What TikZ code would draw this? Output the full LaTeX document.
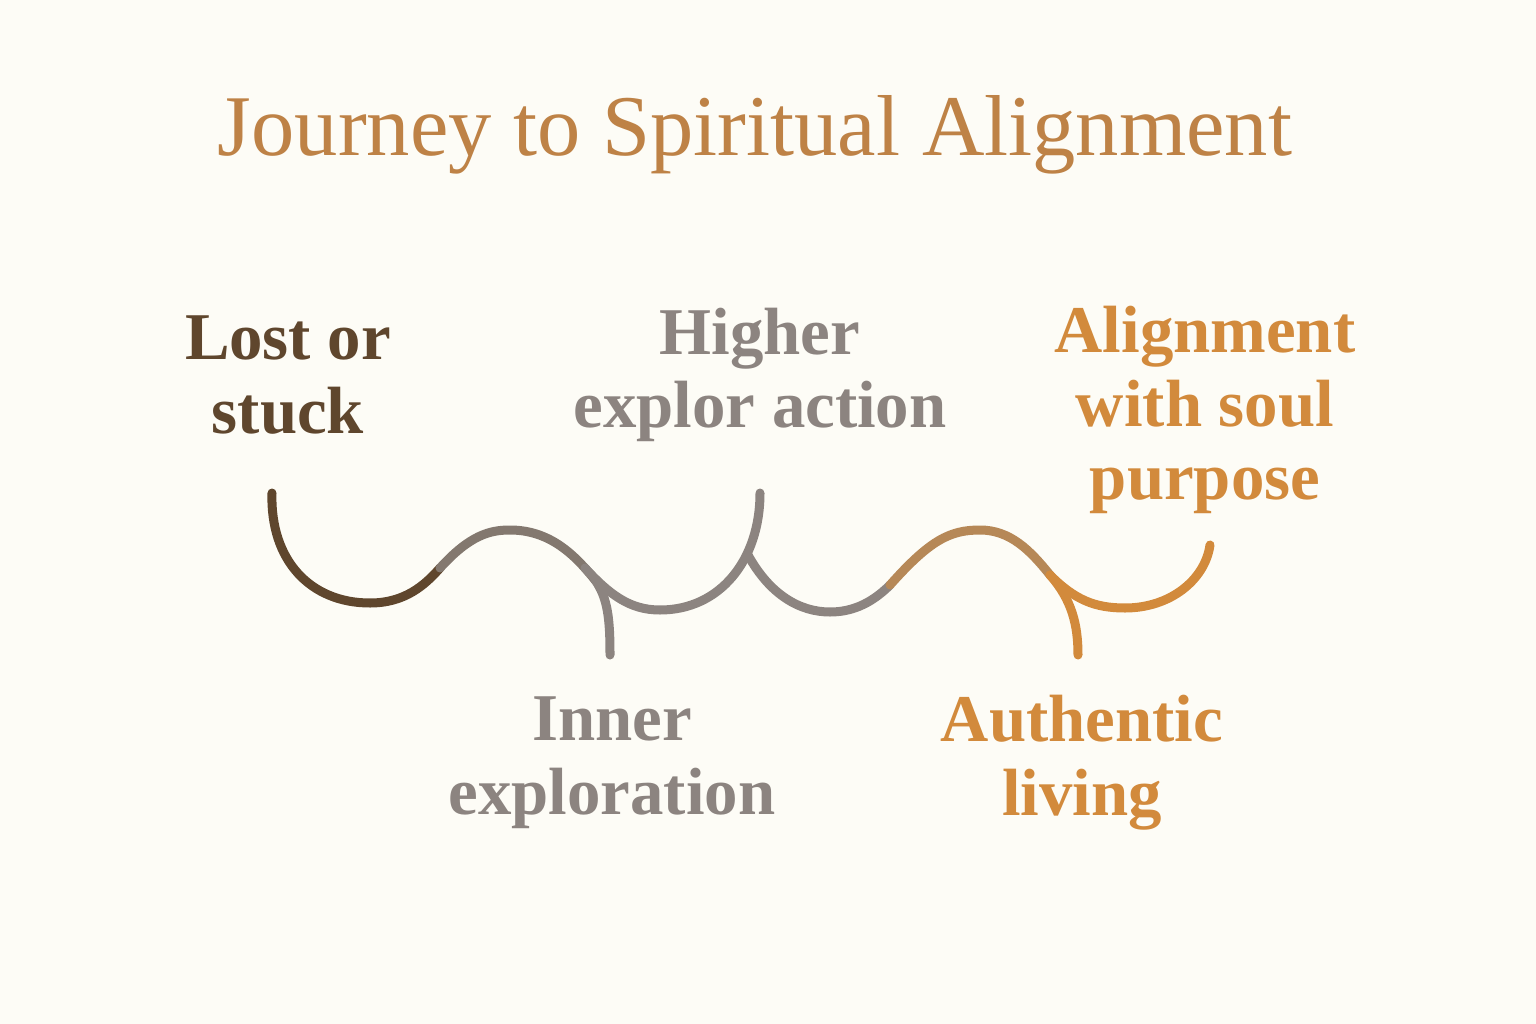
\documentclass[tikz,border=0pt]{standalone}
\usepackage{fontspec}
\setmainfont{Liberation Serif}
\usetikzlibrary{positioning}
\definecolor{paper}{RGB}{253,252,246}
\definecolor{earth}{RGB}{95,70,45}
\definecolor{stone}{RGB}{140,132,128}
\definecolor{amber}{RGB}{210,138,60}
\definecolor{titlec}{RGB}{190,130,70}
\tikzset{
  lab/.style  = {align=center, font=\fontsize{19}{21}\selectfont\bfseries},
  wave/.style = {line width=0.9mm, line cap=round}
}
\begin{document}
\begin{tikzpicture}[x=0.01cm,y=-0.01cm]
    \fill[paper] (0,0) rectangle (1536,1024);
    \node[font=\fontsize{24.6}{27}\selectfont, text=titlec] (title) at (755,135) {Journey to Spiritual Alignment};
    \node[lab, text=earth] (lost) at (288,375) {Lost or\\stuck};
    \node[lab, text=stone] (higher) at (760,375) {Higher\\explor action};
    \node[lab, text=amber] (align) at (1205,410) {Alignment\\with soul\\purpose};
    \node[lab, text=stone] (inner) at (612,763) {Inner\\exploration};
    \node[lab, text=amber] (auth) at (1082,763) {Authentic\\living};
    % path of the journey
    \draw[wave, earth] (272,493) .. controls (270,560) and (310,603) .. (370,603)
        .. controls (405,603) and (425,585) .. (440,568);
    \draw[wave, stone!80!earth] (440,568) .. controls (470,535) and (490,530) .. (510,530)
        .. controls (550,530) and (575,555) .. (595,580);
    \draw[wave, stone] (595,580) .. controls (608,598) and (610,620) .. (610,655);
    \draw[wave, stone] (585,568) .. controls (610,595) and (630,610) .. (660,610)
        .. controls (720,610) and (760,560) .. (760,493);
    \draw[wave, stone] (748,555) .. controls (770,595) and (800,612) .. (830,612)
        .. controls (850,612) and (870,605) .. (890,585);
    \draw[wave, amber!60!stone] (890,585) .. controls (930,540) and (950,530) .. (980,530)
        .. controls (1010,530) and (1030,550) .. (1050,575);
    \draw[wave, amber] (1050,575) .. controls (1072,600) and (1078,625) .. (1078,655);
    \draw[wave, amber] (1050,575) .. controls (1075,600) and (1095,608) .. (1125,608)
        .. controls (1170,608) and (1205,580) .. (1210,545);
\end{tikzpicture}
\end{document}
